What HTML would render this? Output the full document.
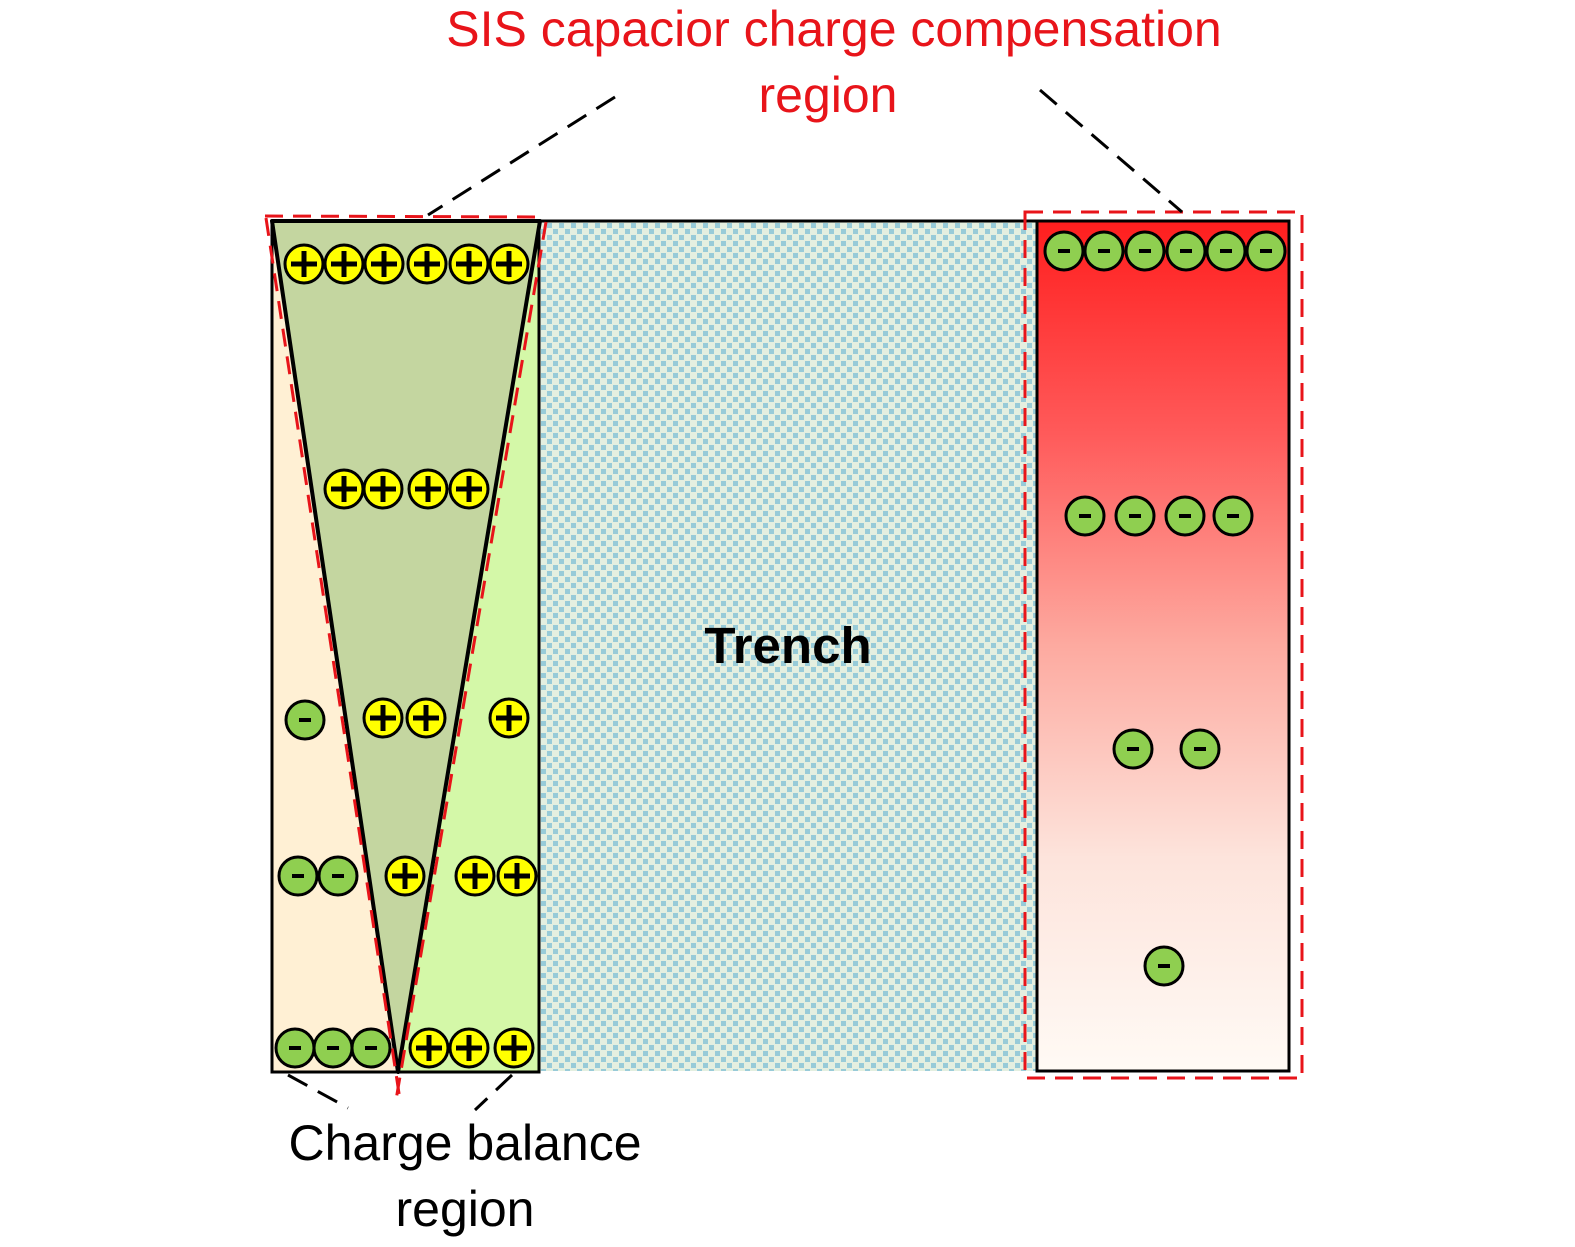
<!DOCTYPE html>
<html><head><meta charset="utf-8"><style>html,body{margin:0;padding:0;background:#fff}svg{display:block}</style></head>
<body>
<svg width="1575" height="1247" viewBox="0 0 1575 1247" xmlns="http://www.w3.org/2000/svg">
<defs>
<pattern id="tp" width="12" height="12" patternUnits="userSpaceOnUse">
<rect width="12" height="12" fill="#e4efe0"/>
<rect x="1" y="1" width="5" height="5" fill="#98cbd8"/>
<rect x="7" y="7" width="5" height="5" fill="#98cbd8"/>
</pattern>
<linearGradient id="rg" x1="0" y1="0" x2="0" y2="1">
<stop offset="0" stop-color="#ff1e1e"/>
<stop offset="0.25" stop-color="#ff5a5a"/>
<stop offset="0.5" stop-color="#fdaaa0"/>
<stop offset="0.75" stop-color="#fde4dc"/>
<stop offset="1" stop-color="#fffaf5"/>
</linearGradient>
<g id="p"><circle r="19" fill="#ffff00" stroke="#000" stroke-width="3"/><path d="M-13 0H13M0 -13V13" stroke="#000" stroke-width="5"/></g>
<g id="m"><circle r="19" fill="#8fcf50" stroke="#000" stroke-width="3"/><path d="M-6 0H6" stroke="#000" stroke-width="4"/></g>
</defs>
<rect x="540" y="221" width="497" height="850" fill="url(#tp)"/>
<line x1="540" y1="221" x2="1037" y2="221" stroke="#000" stroke-width="3"/>
<polygon points="272,221 398,1072 272,1072" fill="#fff0d4"/>
<polygon points="540,221 540,1072 398,1072" fill="#d4f8a8"/>
<polygon points="272,221 540,221 398,1072" fill="#c4d6a0" stroke="#000" stroke-width="4" stroke-linejoin="round"/>
<rect x="272" y="221" width="267" height="851" fill="none" stroke="#000" stroke-width="3"/>
<rect x="1037" y="221" width="252" height="850" fill="url(#rg)" stroke="#000" stroke-width="3"/>
<g stroke="#e8141a" stroke-width="3" stroke-dasharray="18 10" fill="none">
<line x1="265" y1="216" x2="538" y2="217"/>
<line x1="266" y1="218" x2="400" y2="1100"/>
<line x1="546" y1="222" x2="396" y2="1100"/>
<rect x="1025" y="212" width="277" height="866"/>
</g>
<g stroke="#000" stroke-width="3" stroke-dasharray="22 12">
<line x1="615" y1="97" x2="428" y2="215"/>
<line x1="1040" y1="90" x2="1182" y2="212"/>
<line x1="288" y1="1075" x2="348" y2="1108"/>
<line x1="512" y1="1075" x2="475" y2="1110"/>
</g>
<use href="#p" x="304" y="264"/><use href="#p" x="344" y="264"/><use href="#p" x="384" y="264"/><use href="#p" x="427" y="264"/><use href="#p" x="469" y="264"/><use href="#p" x="509" y="264"/>
<use href="#p" x="344" y="489"/><use href="#p" x="383" y="489"/><use href="#p" x="428" y="489"/><use href="#p" x="469" y="489"/>
<use href="#m" x="305" y="720"/><use href="#p" x="383" y="718"/><use href="#p" x="426" y="718"/><use href="#p" x="509" y="718"/>
<use href="#m" x="298" y="876"/><use href="#m" x="338" y="876"/><use href="#p" x="405" y="876"/><use href="#p" x="475" y="876"/><use href="#p" x="517" y="876"/>
<use href="#m" x="295" y="1048"/><use href="#m" x="333" y="1048"/><use href="#m" x="371" y="1048"/><use href="#p" x="429" y="1048"/><use href="#p" x="469" y="1048"/><use href="#p" x="514" y="1048"/>
<use href="#m" x="1064" y="251"/><use href="#m" x="1104" y="251"/><use href="#m" x="1145" y="251"/><use href="#m" x="1186" y="251"/><use href="#m" x="1226" y="251"/><use href="#m" x="1266" y="251"/>
<use href="#m" x="1085" y="516"/><use href="#m" x="1135" y="516"/><use href="#m" x="1185" y="516"/><use href="#m" x="1233" y="516"/>
<use href="#m" x="1133" y="749"/><use href="#m" x="1200" y="749"/>
<use href="#m" x="1164" y="966"/>
<g font-family="Liberation Sans, sans-serif" text-anchor="middle">
<text x="834" y="46" font-size="50" fill="#e8141a">SIS capacior charge compensation</text>
<text x="828" y="112" font-size="50" fill="#e8141a">region</text>
<text x="788" y="663" font-size="51" font-weight="bold" fill="#000">Trench</text>
<text x="465" y="1160" font-size="50" fill="#000">Charge balance</text>
<text x="465" y="1226" font-size="50" fill="#000">region</text>
</g>
</svg>
</body></html>
